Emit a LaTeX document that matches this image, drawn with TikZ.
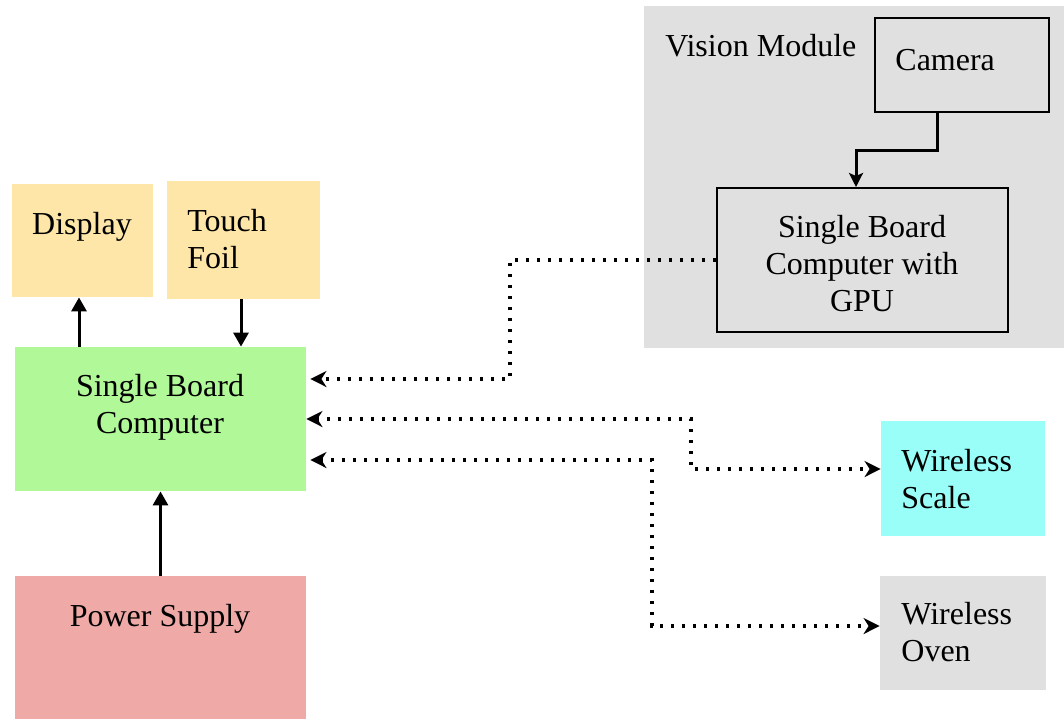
\documentclass[tikz,border=0pt]{standalone}
\usepackage{fontspec}
\setmainfont{Liberation Serif}
\usetikzlibrary{arrows.meta,fit}
\definecolor{sand}{HTML}{FDE6A8}
\definecolor{lgreen}{HTML}{B0F898}
\definecolor{rose}{HTML}{EFAAA8}
\definecolor{aqua}{HTML}{99FDF8}
\definecolor{lgray}{HTML}{E0E0E0}
\tikzset{
  area/.style={inner sep=0pt, draw=none},
  framed/.style={inner sep=0pt, draw=black, line width=1pt},
  lbl/.style={inner sep=0pt, font=\fontsize{16}{18.3}\selectfont, anchor=base},
  lbll/.style={lbl, anchor=base west, align=left},
  solidarrow/.style={line width=1.5pt, -{Triangle[length=7pt,width=7.5pt]}},
  camarrow/.style={line width=1.5pt, -{Stealth[length=7pt,width=7pt,inset=1.5pt]}},
  dotline/.style={line width=1.6pt, dash pattern=on 1.4pt off 4.1pt},
  dtip/.tip={Stealth[length=8pt,width=8pt,inset=2.5pt]}
}
\begin{document}
\begin{tikzpicture}[x=0.5pt,y=-0.5pt]
\useasboundingbox (0,0) rectangle (1064,719);
% areas
\node[area, fill=lgray, fit={(644,6) (1064,348)}] (vis) {};
\node[area, fill=sand, fit={(12,184) (153,297)}] (disp) {};
\node[area, fill=sand, fit={(167,181) (320,299)}] (touch) {};
\node[area, fill=lgreen, fit={(15,347) (306,491)}] (sbc) {};
\node[area, fill=rose, fit={(15,576) (306,719)}] (ps) {};
\node[area, fill=aqua, fit={(881,421) (1045,536)}] (scale) {};
\node[area, fill=lgray, fit={(880,576) (1046,690)}] (oven) {};
\node[framed, fit={(875,18) (1049,112)}] (cam) {};
\node[framed, fit={(717,188) (1008,332)}] (gpu) {};
% labels (multi-line nodes: base = last line)
\node[lbl] (tdisp) at (82,234) {Display};
\node[lbll] (ttouch) at (187,268) {Touch\\Foil};
\node[lbl, align=center] (tsbc) at (160,433) {Single Board\\Computer};
\node[lbl] (tps) at (160,626) {Power Supply};
\node[lbll] (tvis) at (665,56) {Vision Module};
\node[lbll] (tcam) at (895,70) {Camera};
\node[lbl, align=center] (tgpu) at (862,311) {Single Board\\Computer with\\GPU};
\node[lbll] (tscale) at (901,508) {Wireless\\Scale};
\node[lbll] (toven) at (901,661) {Wireless\\Oven};
% solid connectors
\draw[solidarrow] ([xshift=-1.75pt]disp.south |- sbc.north) -- ([xshift=-1.75pt]disp.south);
\draw[solidarrow] ([xshift=-1.25pt]touch.south) -- ([xshift=-1.25pt]touch.south |- sbc.north);
\draw[solidarrow] (ps.north) -- (sbc.south);
\coordinate (c1) at (937,150);
\draw[camarrow] (cam.south -| c1) -- (c1) -| ([xshift=-3.25pt]gpu.north);
% dotted connectors
\coordinate (d1) at (510,260);
\draw[dotline, -dtip, shorten >=2pt] (gpu.west) -- (d1) |- ([yshift=20pt]sbc.east);
\coordinate (d2) at (691,419);
\draw[dotline, dtip-dtip] (sbc.east) -- (d2) |- ([yshift=4.75pt]scale.west);
\coordinate (d3) at (652,460);
\draw[dotline, dtip-dtip, shorten <=2pt] ([yshift=-20.5pt]sbc.east) -- (d3) |- ([yshift=3.5pt]oven.west);
\end{tikzpicture}
\end{document}
